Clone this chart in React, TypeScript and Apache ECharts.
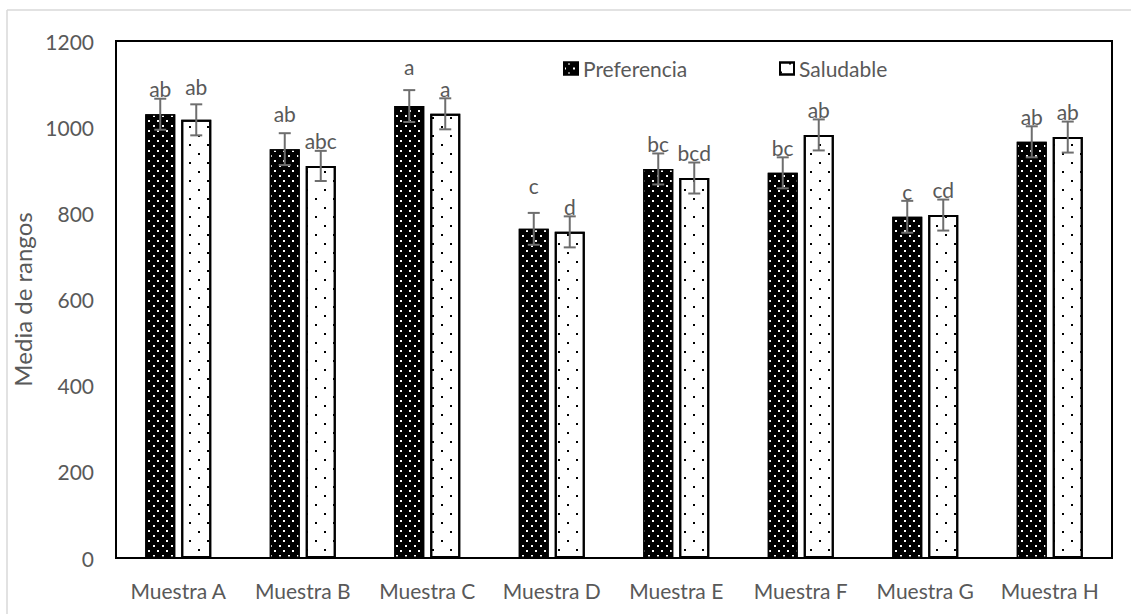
import React, { useEffect, useRef } from "react";
import * as echarts from "echarts";

const categories = ["Muestra A", "Muestra B", "Muestra C", "Muestra D", "Muestra E", "Muestra F", "Muestra G", "Muestra H"];
const preferencia = [1030, 949, 1049, 764, 903, 894, 792, 966];
const saludable = [1017, 910, 1031, 757, 882, 982, 796, 977];
const preferenciaErr = [36, 37, 37, 37, 36, 36, 37, 36];
const saludableErr = [36, 35, 36, 36, 36, 36, 36, 36];
const preferenciaLetters = ["ab", "ab", "a", "c", "bc", "bc", "c", "ab"];
const saludableLetters = ["ab", "abc", "a", "d", "bcd", "ab", "cd", "ab"];
const yTicks = [0, 200, 400, 600, 800, 1000, 1200];

// extra manual label lifts (px), as in the original figure
const prefLift = [0, 10, 14, 18, 0, 0, 0, 0];
const salLift = [8, 0, 0, 0, 0, 0, 0, 0];

const FONT = "Lato";
const TXT = "#595959";
const BAR_W = 30;
const HALF_OFF = 18;

export default function App() {
  const ref = useRef<HTMLDivElement>(null);
  useEffect(() => {
    if (!ref.current) return;
    const chart = echarts.init(ref.current, undefined, { renderer: "svg" });
    const errData: any[] = [];
    categories.forEach((_, i) => {
      errData.push([i, preferencia[i], preferenciaErr[i], -1]);
      errData.push([i, saludable[i], saludableErr[i], 1]);
    });
    const mkBarData = (vals: number[], letters: string[], lift: number[]) =>
      vals.map((v, i) => ({
        value: v,
        label: { formatter: letters[i], offset: [0, -lift[i]] },
      }));
    const option: any = {
      animation: false,
      aria: { enabled: true, decal: { show: true } },
      textStyle: { fontFamily: FONT },
      grid: {
        left: 116, top: 41, right: 19, bottom: 56,
        show: true, borderColor: "#000", borderWidth: 2, backgroundColor: "transparent",
      },
      legend: [
        {
          left: 563, top: 58, padding: 0, itemWidth: 14, itemHeight: 12, icon: "rect",
          data: ["Preferencia"],
          textStyle: { fontFamily: FONT, fontSize: 21, color: TXT },
        },
        {
          left: 779, top: 58, padding: 0, itemWidth: 14, itemHeight: 12, icon: "rect",
          data: ["Saludable"],
          textStyle: { fontFamily: FONT, fontSize: 21, color: TXT },
        },
      ],
      xAxis: {
        type: "category",
        data: categories,
        axisLine: { show: false },
        axisTick: { show: false },
        axisLabel: { fontFamily: FONT, fontSize: 21, color: TXT, margin: 22, interval: 0 },
      },
      yAxis: {
        type: "value",
        min: yTicks[0], max: yTicks[yTicks.length - 1], interval: 200,
        name: "Media de rangos",
        nameLocation: "middle",
        nameGap: 74,
        nameTextStyle: { fontFamily: FONT, fontSize: 24, color: TXT },
        axisLine: { show: false },
        axisTick: { show: false },
        splitLine: { show: false },
        axisLabel: { fontFamily: FONT, fontSize: 21, color: TXT, margin: 22, formatter: (v: number) => String(v) },
      },
      series: [
        {
          name: "Preferencia",
          type: "bar",
          barWidth: BAR_W,
          barGap: "20%",
          data: mkBarData(preferencia, preferenciaLetters, prefLift),
          itemStyle: {
            color: "#000", borderColor: "#000", borderWidth: 1.5,
            decal: {
              symbol: "rect", symbolSize: 1, color: "#ffffff",
              dashArrayX: [[1.5, 7], [0, 4, 1.5, 3]], dashArrayY: [1.5, 3], rotation: 0,
            },
          },
          label: {
            show: true, position: "top", distance: 15,
            fontFamily: FONT, fontSize: 21, color: TXT,
          },
          z: 2,
        },
        {
          name: "Saludable",
          type: "bar",
          barWidth: BAR_W,
          barGap: "20%",
          data: mkBarData(saludable, saludableLetters, salLift),
          itemStyle: {
            color: "#fff", borderColor: "#000", borderWidth: 2,
            decal: {
              symbol: "rect", symbolSize: 1, color: "#000000",
              dashArrayX: [[2, 16], [0, 9, 2, 7]], dashArrayY: [2, 6.5], rotation: 0,
            },
          },
          label: {
            show: true, position: "top", distance: 15,
            fontFamily: FONT, fontSize: 21, color: TXT,
          },
          z: 2,
        },
        {
          type: "custom",
          name: "err",
          data: errData,
          z: 5,
          silent: true,
          itemStyle: { decal: "none" },
          renderItem: (params: any, api: any) => {
            const idx = api.value(0);
            const v = api.value(1);
            const e = api.value(2);
            const s = api.value(3);
            const x = api.coord([idx, 0])[0] + s * HALF_OFF;
            const yHi = api.coord([idx, v + e])[1];
            const yLo = api.coord([idx, v - e])[1];
            const st = { stroke: "#6e6e6e", lineWidth: 2 };
            return {
              type: "group",
              children: [
                { type: "line", shape: { x1: x, y1: yHi, x2: x, y2: yLo }, style: st },
                { type: "line", shape: { x1: x - 6, y1: yHi, x2: x + 6, y2: yHi }, style: st },
                { type: "line", shape: { x1: x - 6, y1: yLo, x2: x + 6, y2: yLo }, style: st },
              ],
            };
          },
        },
      ],
      graphic: [
        { type: "line", shape: { x1: 7, y1: 10, x2: 7, y2: 614 }, style: { stroke: "#d9d9d9", lineWidth: 1.5 } },
        { type: "line", shape: { x1: 7, y1: 10, x2: 1131, y2: 10 }, style: { stroke: "#d9d9d9", lineWidth: 1.5 } },
      ],
    };
    chart.setOption(option);
    return () => chart.dispose();
  }, []);
  return <div ref={ref} style={{ width: 1131, height: 614, position: "absolute", left: 0, top: 0 }} />;
}
